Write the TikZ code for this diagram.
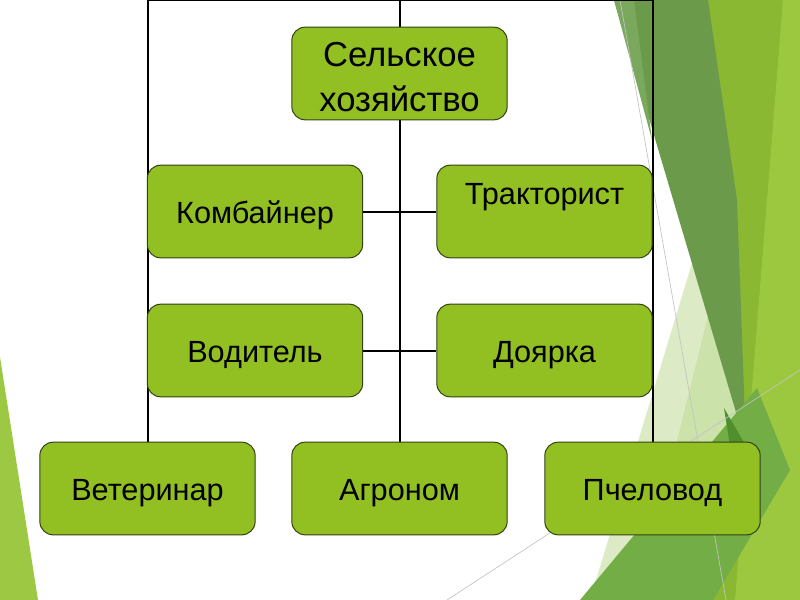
\documentclass[tikz,border=0pt]{standalone}
\usepackage{fontspec}
\setmainfont{Liberation Sans}
\pgfdeclarelayer{deco}
\pgfdeclarelayer{lines}
\pgfsetlayers{deco,lines,main}
\definecolor{boxfill}{RGB}{146,192,35}
\definecolor{boxline}{RGB}{50,66,20}
\definecolor{ygreen}{RGB}{138,184,51}
\definecolor{lgreen}{RGB}{156,200,64}
\definecolor{pgreen}{RGB}{220,235,198}
\definecolor{pgreenb}{RGB}{201,224,165}
\definecolor{dgreen}{RGB}{106,154,74}
\definecolor{dgreenl}{RGB}{122,168,92}
\definecolor{dgreend}{RGB}{80,143,46}
\definecolor{mgreen}{RGB}{114,173,69}
\definecolor{tgreen}{RGB}{157,200,67}
\definecolor{thin}{RGB}{195,195,195}
\tikzset{
  box/.style={draw=boxline, fill=boxfill, rounded corners=10pt, line width=0.75pt,
    minimum width=161.5pt, minimum height=69.5pt, inner sep=0pt, align=center,
    text=black, font=\fontsize{23}{27}\selectfont, text height=18.6pt, text depth=0pt},
  topbox/.style={box, font=\fontsize{26}{34}\selectfont, text height=57.4pt, text depth=0.3pt},
  conn/.style={draw=black, line width=1.5pt},
  thinline/.style={draw=thin, line width=0.5pt}
}
\begin{document}
\begin{tikzpicture}[x=0.75pt,y=-0.75pt]
\useasboundingbox (0,0) rectangle (800,600);
% nodes
\node[topbox] (top) at (399.5,73.5) {Сельское\\хозяйство};
\node[box] (komb) at (255,211.5) {Комбайнер};
\node[box, text height=16pt, text depth=27pt] (trakt) at (544.5,211.5) {Тракторист};
\node[box] (vod) at (255,350.5) {Водитель};
\node[box] (doyar) at (544.5,350.5) {Доярка};
\node[box] (vet) at (147.5,488.5) {Ветеринар};
\node[box] (agr) at (399.5,488.5) {Агроном};
\node[box] (pchel) at (652.5,488.5) {Пчеловод};
\coordinate (cL) at (147.5,0);
\coordinate (cT) at (399.5,0);
\coordinate (cR) at (652.5,0);
% background decoration
\begin{pgfonlayer}{deco}
\fill[ygreen] (708,0) -- (800,0) -- (800,600) -- (700,600) -- cycle;
\fill[lgreen] (783,0) -- (800,0) -- (800,600) -- (735,600) -- cycle;
\fill[pgreen] (702,230) -- (748,450) -- (590,600) -- cycle;
\fill[pgreenb, opacity=0.8] (712,300) -- (748,450) -- (640,590) -- cycle;
\fill[dgreen] (614,0) -- (708,0) -- (737,200) -- (746,446) -- cycle;
\fill[dgreenl] (614,0) -- (634,0) -- (652,140) -- cycle;
\fill[mgreen] (580,600) -- (757,388) -- (790,470) -- (713,600) -- cycle;
\fill[dgreend] (724,408) -- (746,446) -- (730,446) -- cycle;
\fill[tgreen] (0,357) -- (38,600) -- (0,600) -- cycle;
\draw[thinline] (620,0) -- (726,600);
\draw[thinline] (447,600) -- (800,370);
\end{pgfonlayer}
% connectors
\begin{pgfonlayer}{lines}
\draw[conn] (cL) -- (cR);
\draw[conn] (cT) -- (agr.north);
\draw[conn] (cL) -- (vet.north);
\draw[conn] (cR) -- (pchel.north);
\draw[conn] (komb.east) -- (trakt.west);
\draw[conn] (vod.east) -- (doyar.west);
\end{pgfonlayer}
\end{tikzpicture}
\end{document}
